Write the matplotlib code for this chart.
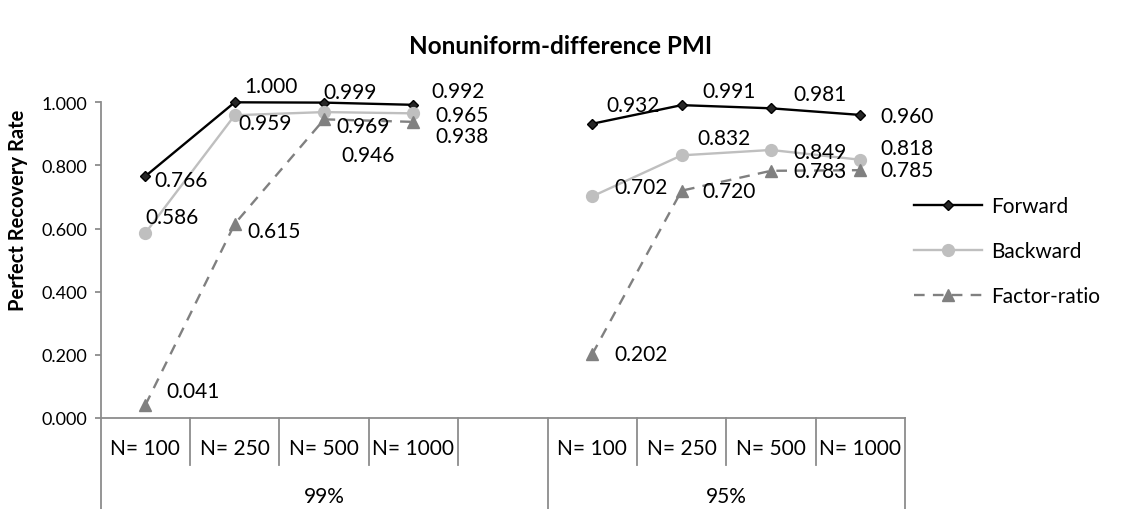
import matplotlib
matplotlib.use("Agg")
import matplotlib.pyplot as plt

# ---------------- data ----------------
groups = ["99%", "95%"]
categories = ["N= 100", "N= 250", "N= 500", "N= 1000"]
series_names = ["Forward", "Backward", "Factor-ratio"]

forward_99 = [0.766, 1.000, 0.999, 0.992]
backward_99 = [0.586, 0.959, 0.969, 0.965]
factor_99 = [0.041, 0.615, 0.946, 0.938]

forward_95 = [0.932, 0.991, 0.981, 0.960]
backward_95 = [0.702, 0.832, 0.849, 0.818]
factor_95 = [0.202, 0.720, 0.783, 0.785]

y_ticks = [0.0, 0.2, 0.4, 0.6, 0.8, 1.0]

# ---------------- layout / style ----------------
W, H = 1123, 510
DPI = 100
FONT = "Lato"
plt.rcParams["font.family"] = [FONT, "DejaVu Sans"]

ax_l, ax_r, ax_t, ax_b = 100.7, 905.0, 103.3, 419.0  # pixel box of plot area
fig = plt.figure(figsize=(W / DPI, H / DPI), dpi=DPI)
ax = fig.add_axes([ax_l / W, (H - ax_b) / H, (ax_r - ax_l) / W, (ax_b - ax_t) / H])
ah = ax_b - ax_t

def px_to_axfrac(py):
    return -(py - ax_b) / ah

styles = {
    "Forward": dict(color="#000000", marker="D", markersize=5.5, markerfacecolor="#262626",
                    markeredgecolor="#000000", linewidth=1.7, linestyle="-"),
    "Backward": dict(color="#BFBFBF", marker="o", markersize=8.5, markerfacecolor="#BFBFBF",
                     markeredgecolor="#BFBFBF", linewidth=1.7, linestyle="-"),
    "Factor-ratio": dict(color="#808080", marker="^", markersize=8, markerfacecolor="#808080",
                         markeredgecolor="#808080", linewidth=1.7, linestyle=(0, (4.5, 3.5))),
}

# category slots: group 1 has 4 categories + one blank slot, group 2 has 4
group_slots = [[0, 1, 2, 3], [5, 6, 7, 8]]
n_slots = 9
group_data = [
    {"Forward": forward_99, "Backward": backward_99, "Factor-ratio": factor_99},
    {"Forward": forward_95, "Backward": backward_95, "Factor-ratio": factor_95},
]

# label offsets in pixels (dx to left edge, dy downward)
label_offsets = [
    {"Forward": [(9, 4), (10, -16), (-1, -11), (18, -14)],
     "Backward": [(0, -16), (4, 8), (12, 14), (22, 2)],
     "Factor-ratio": [(21, -14), (13, 7), (17, 36), (22, 14)]},
    {"Forward": [(14, -19), (21, -14), (22, -14), (20, 1)],
     "Backward": [(22, -9), (16, -17), (22, 2), (20, -12)],
     "Factor-ratio": [(22, 0), (21, 0), (22, 0), (20, 0)]},
]

handles = {}
for gi, slots in enumerate(group_slots):
    xs = [s + 0.5 for s in slots]
    for name in series_names:
        vals = group_data[gi][name]
        ln, = ax.plot(xs, vals, clip_on=False, zorder=3, **styles[name])
        handles[name] = ln
        for x, v, (dx, dy) in zip(xs, vals, label_offsets[gi][name]):
            ax.annotate(f"{v:.3f}", (x, v), xytext=(dx, -dy), textcoords="offset pixels",
                        ha="left", va="center", fontsize=15, color="#000000", zorder=4)

ax.set_xlim(0, n_slots)
ax.set_ylim(0, 1)
ax.set_yticks(y_ticks)
ax.set_yticklabels([f"{t:.3f}" for t in y_ticks])
ax.set_xticks([])

axis_color = "#8C8C8C"
for sp in ["top", "right"]:
    ax.spines[sp].set_visible(False)
for sp in ["left", "bottom"]:
    ax.spines[sp].set_color(axis_color)
    ax.spines[sp].set_linewidth(1.3)
ax.tick_params(axis="y", direction="out", length=4.5, width=1.3, color=axis_color,
               labelsize=13, pad=5)

# hierarchical category axis
tr = ax.get_xaxis_transform()
short_y = px_to_axfrac(466)
long_y = px_to_axfrac(530)
long_lines = [0, 5, 9]
short_lines = [1, 2, 3, 4, 6, 7, 8]
for x in long_lines:
    ax.plot([x, x], [0, long_y], transform=tr, color=axis_color, lw=1.3, clip_on=False)
for x in short_lines:
    ax.plot([x, x], [0, short_y], transform=tr, color=axis_color, lw=1.3, clip_on=False)

cat_y = px_to_axfrac(449)
for slots in group_slots:
    for s, c in zip(slots, categories):
        ax.text(s + 0.5, cat_y, c, transform=tr, ha="center", va="center", fontsize=15)

grp_y = px_to_axfrac(497)
group_spans = [(0, 5), (5, 9)]
for (a, b), g in zip(group_spans, groups):
    ax.text((a + b) / 2, grp_y, g, transform=tr, ha="center", va="center", fontsize=15)

# title and axis label
fig.text(561 / W, 1 - 47 / H, "Nonuniform-difference PMI", ha="center", va="center",
         fontsize=17.5, fontweight="bold")
fig.text(18 / W, 1 - 210 / H, "Perfect Recovery Rate", ha="center", va="center",
         rotation=90, fontsize=14.5, fontweight="bold")

# legend
leg = fig.legend([handles[n] for n in series_names], series_names,
                 loc="center left", bbox_to_anchor=(913.6 / W, 1 - 252 / H),
                 frameon=False, fontsize=15, handlelength=3.3, handletextpad=0.4,
                 labelspacing=1.2, borderpad=0, borderaxespad=0)

fig.savefig("out.png", dpi=DPI)
